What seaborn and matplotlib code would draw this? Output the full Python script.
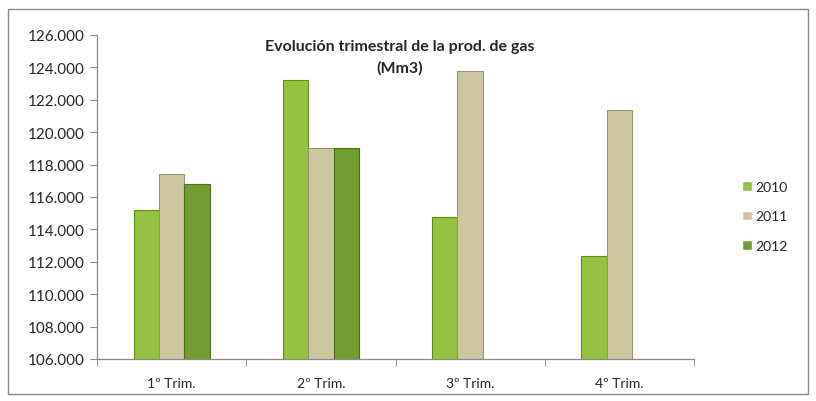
import numpy as np
import pandas as pd
import matplotlib
matplotlib.use("Agg")
import matplotlib.pyplot as plt
import seaborn as sns
from matplotlib.ticker import FuncFormatter, FixedLocator

# Producción trimestral de gas (Mm3)
trimestres = ["1º Trim.", "2º Trim.", "3º Trim.", "4º Trim."]
anios = ["2010", "2011", "2012"]
prod_2010 = [115200, 123200, 114750, 112350]
prod_2011 = [117400, 119000, 123800, 121400]
prod_2012 = [116800, 119050, np.nan, np.nan]
colores = ["#95c240", "#cdc6a0", "#719c31"]
bordes = ["#5f8a1e", "#9a9372", "#4d7219"]

df = pd.DataFrame({
    "Trimestre": trimestres * 3,
    "Año": sum([[a] * 4 for a in anios], []),
    "Valor": prod_2010 + prod_2011 + prod_2012,
})

sns.set_style("white")
plt.rcParams["font.family"] = ["Lato", "DejaVu Sans"]

fig = plt.figure(figsize=(8.16, 4.02), dpi=100)
ax = fig.add_axes([97 / 816, 1 - 360 / 402, (694 - 97) / 816, (360 - 36) / 402])

sns.barplot(data=df, x="Trimestre", y="Valor", hue="Año", palette=colores,
            width=0.51, ax=ax, saturation=1, legend=True)

# bordes de las barras
for cont, borde in zip(ax.containers, bordes):
    for bar in cont:
        bar.set_edgecolor(borde)
        bar.set_linewidth(0.8)

ax.set_ylim(106000, 126000)
ax.set_xlim(-0.5, 3.5)
ax.set_yticks(np.arange(106000, 126001, 2000))
ax.yaxis.set_major_formatter(FuncFormatter(lambda v, p: f"{v:,.0f}".replace(",", ".")))
ax.xaxis.set_minor_locator(FixedLocator([-0.5, 0.5, 1.5, 2.5, 3.5]))
ax.tick_params(axis="x", which="major", length=0, labelsize=10, pad=13)
ax.tick_params(axis="x", which="minor", length=5, color="#888888", direction="out", bottom=True)
ax.tick_params(axis="y", length=5, color="#888888", direction="out", left=True, labelsize=11, pad=4)
ax.set_xlabel("")
ax.set_ylabel("")
for s in ["top", "right"]:
    ax.spines[s].set_visible(False)
for s in ["left", "bottom"]:
    ax.spines[s].set_color("#888888")
    ax.spines[s].set_linewidth(0.9)

leg = ax.legend(loc="center left", bbox_to_anchor=(1.06, 0.44), frameon=False,
                handlelength=0.7, handleheight=0.7, handletextpad=0.2,
                labelspacing=1.25, fontsize=10)

fig.text(0.49, 1 - 47 / 402, "Evolución trimestral de la prod. de gas",
         ha="center", va="center", fontsize=11.5, fontweight="bold")
fig.text(0.49, 1 - 68 / 402, "(Mm3)", ha="center", va="center",
         fontsize=11.5, fontweight="bold")

# marco exterior del gráfico
fig.patches.append(plt.Rectangle((8 / 816, 7 / 402), 800 / 816, 385 / 402,
                                 transform=fig.transFigure, fill=False,
                                 edgecolor="#888888", linewidth=1))

fig.savefig("out.png", dpi=100)
